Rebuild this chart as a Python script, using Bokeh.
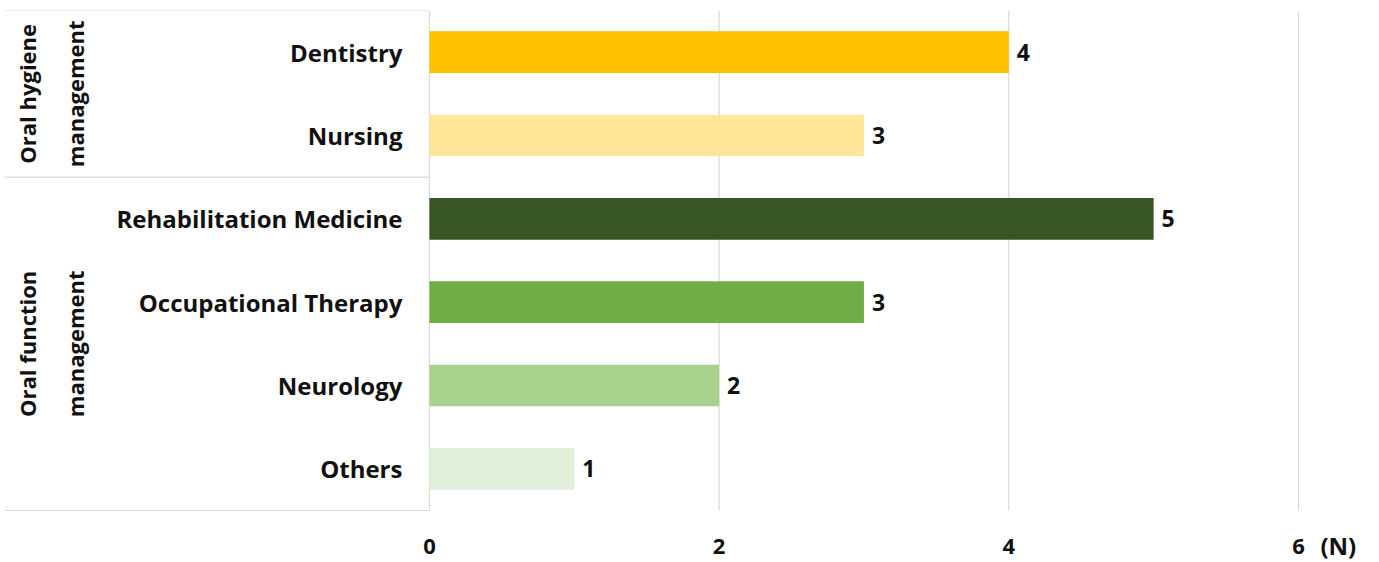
import math
from bokeh.plotting import figure
from bokeh.models import ColumnDataSource, Range1d
from bokeh.core.properties import value
from bokeh.embed import file_html
from bokeh.resources import INLINE

# ---- data ----
categories = ["Dentistry", "Nursing", "Rehabilitation Medicine",
              "Occupational Therapy", "Neurology", "Others"]
counts = [4, 3, 5, 3, 2, 1]
colors = ["#FFC000", "#FFE699", "#375623", "#70AD47", "#A9D18E", "#E2EFDA"]
groups = ["Oral hygiene\nmanagement", "Oral function\nmanagement"]
group_sizes = [2, 4]
x_ticks = [0, 2, 4, 6]
unit_label = "(N)"

# ---- layout ----
FONT = "Open Sans"
TXT = "#111111"
n = len(categories)
x_start, x_end = -2.934, 6.539
y_bottom = -0.624  # room below the bars for tick labels (inside the frame)

ypos = [n - i - 0.5 for i in range(n)]

p = figure(width=1376, height=562, output_backend="svg", toolbar_location=None,
           x_range=Range1d(x_start, x_end), y_range=Range1d(y_bottom, n),
           x_axis_location=None, y_axis_location=None,
           min_border_left=4, min_border_right=0, min_border_top=10, min_border_bottom=0)
p.outline_line_color = None
p.background_fill_color = "white"
p.border_fill_color = "white"
p.xgrid.visible = False
p.ygrid.visible = False

# vertical grid lines (value axis)
p.segment(x0=x_ticks, x1=x_ticks, y0=[0] * len(x_ticks), y1=[n] * len(x_ticks),
          line_color="#d9d9d9", line_width=1.2)

# bars
src = ColumnDataSource(dict(y=ypos, v=counts, c=colors, cat=categories,
                            lab=[str(v) for v in counts]))
p.hbar(y="y", left=0, right="v", height=0.5, fill_color="c", line_color=None, source=src)

# value labels
p.text(x="v", y="y", text="lab", source=src, x_offset=8, text_align="left",
       text_baseline="middle", text_font=value(FONT), text_font_style="bold",
       text_font_size="23px", text_color=TXT)

# category labels
p.text(x=0, y="y", text="cat", source=src, x_offset=-27, text_align="right",
       text_baseline="middle", text_font=value(FONT), text_font_style="bold",
       text_font_size="24px", text_color=TXT)

# group boundaries and labels
bounds = [n]
for s in group_sizes:
    bounds.append(bounds[-1] - s)
p.segment(x0=[x_start] * len(bounds), x1=[0] * len(bounds), y0=bounds, y1=bounds,
          line_color="#d9d9d9", line_width=1.2)
gcent = [(bounds[i] + bounds[i + 1]) / 2 for i in range(len(groups))]
p.text(x=[x_start] * len(groups), y=gcent, text=groups, x_offset=46,
       angle=math.pi / 2, text_align="center", text_baseline="middle",
       text_font=value(FONT), text_font_style="bold", text_font_size="22px",
       text_color=TXT, text_line_height=1.6)

# tick labels of the value axis
p.text(x=x_ticks, y=[0] * len(x_ticks), text=[str(t) for t in x_ticks], y_offset=36,
       text_align="center", text_baseline="middle", text_font=value(FONT),
       text_font_style="bold", text_font_size="22px", text_color=TXT)

# unit label
p.text(x=[x_ticks[-1]], y=[0], text=[unit_label], x_offset=22, y_offset=35,
       text_align="left", text_baseline="middle", text_font=value(FONT),
       text_font_style="bold", text_font_size="24px", text_color=TXT)

open("out.html", "w").write(file_html(p, INLINE))
